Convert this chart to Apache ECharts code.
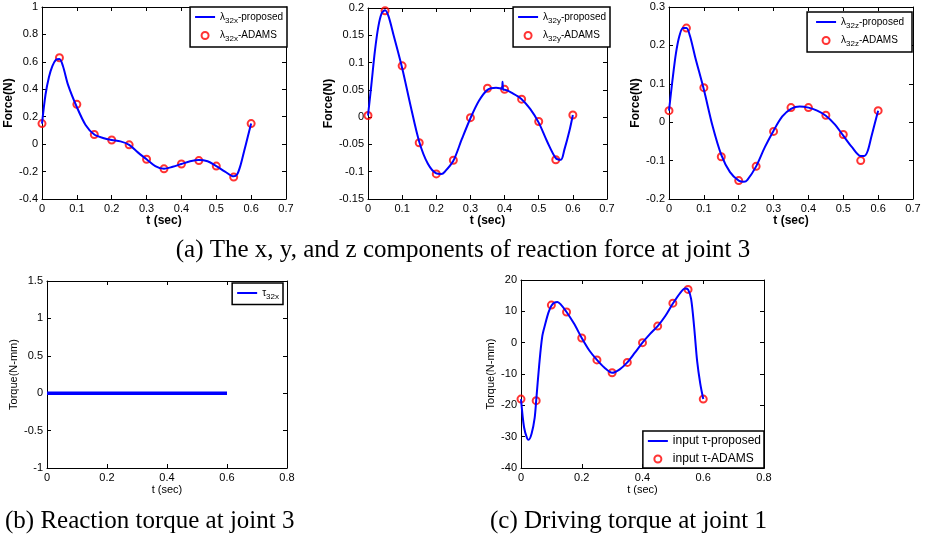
<!DOCTYPE html>
<html>
<head>
<meta charset="utf-8">
<script src="https://cdn.jsdelivr.net/npm/echarts@6/dist/echarts.min.js"></script>
<style>
html, body { margin: 0; padding: 0; background: #fff; }
#chart { width: 926px; height: 540px; }
</style>
</head>
<body>
<div id="chart"></div>
<script>
// ADAMS sample times (shared by all ADAMS series)
const adamsT = [0, 0.05, 0.1, 0.15, 0.2, 0.25, 0.3, 0.35, 0.4, 0.45, 0.5, 0.55, 0.6];

// (a) x component
const fxAdams = [0.15, 0.63, 0.29, 0.07, 0.03, -0.005, -0.11, -0.18, -0.145, -0.12, -0.16, -0.24, 0.15];
const fxLineT = [0, 0.01, 0.02, 0.03, 0.04, 0.05, 0.06, 0.075, 0.1, 0.125, 0.15, 0.175, 0.2, 0.225, 0.25, 0.275, 0.3, 0.325, 0.35, 0.375, 0.4, 0.425, 0.45, 0.475, 0.5, 0.525, 0.55, 0.56, 0.57, 0.58, 0.59, 0.6];
const fxLine = [0.15, 0.36, 0.49, 0.57, 0.615, 0.62, 0.57, 0.43, 0.27, 0.14, 0.07, 0.045, 0.03, 0.02, -0.005, -0.06, -0.11, -0.16, -0.18, -0.165, -0.145, -0.125, -0.115, -0.125, -0.16, -0.2, -0.235, -0.22, -0.15, -0.05, 0.05, 0.15];

// (a) y component
const fyAdams = [0.003, 0.195, 0.094, -0.047, -0.104, -0.079, -0.001, 0.053, 0.051, 0.033, -0.008, -0.078, 0.004];
const fyLineT = [0, 0.01, 0.02, 0.03, 0.04, 0.05, 0.06, 0.075, 0.1, 0.125, 0.15, 0.175, 0.2, 0.215, 0.225, 0.25, 0.275, 0.3, 0.325, 0.35, 0.375, 0.393, 0.394, 0.396, 0.4, 0.425, 0.45, 0.475, 0.5, 0.525, 0.55, 0.565, 0.575, 0.59, 0.6];
const fyLine = [0.003, 0.06, 0.12, 0.165, 0.19, 0.196, 0.185, 0.15, 0.09, 0.02, -0.045, -0.085, -0.103, -0.104, -0.1, -0.08, -0.04, -0.002, 0.03, 0.05, 0.054, 0.052, 0.065, 0.05, 0.05, 0.043, 0.033, 0.015, -0.01, -0.045, -0.075, -0.078, -0.06, -0.025, 0.004];

// (a) z component
const fzAdams = [0.03, 0.245, 0.09, -0.09, -0.152, -0.115, -0.024, 0.038, 0.038, 0.018, -0.032, -0.1, 0.03];
const fzLineT = [0, 0.01, 0.02, 0.03, 0.04, 0.05, 0.06, 0.075, 0.1, 0.125, 0.15, 0.175, 0.2, 0.215, 0.225, 0.25, 0.275, 0.3, 0.325, 0.35, 0.375, 0.4, 0.425, 0.45, 0.475, 0.5, 0.525, 0.55, 0.56, 0.57, 0.58, 0.59, 0.6];
const fzLine = [0.03, 0.11, 0.18, 0.225, 0.245, 0.245, 0.225, 0.17, 0.085, -0.01, -0.085, -0.13, -0.152, -0.155, -0.15, -0.115, -0.065, -0.022, 0.015, 0.035, 0.041, 0.038, 0.03, 0.017, -0.005, -0.035, -0.065, -0.088, -0.088, -0.075, -0.04, -0.005, 0.03];

// (b) reaction torque
const tqT = [0, 0.6];
const tqLine = [0, 0];

// (c) driving torque
const drAdams = [-18, -18.5, 12, 9.8, 1.5, -5.5, -9.6, -6.3, 0, 5.3, 12.6, 17, -18];
const drLineT = [0, 0.01, 0.02, 0.025, 0.035, 0.045, 0.05, 0.06, 0.07, 0.08, 0.09, 0.1, 0.11, 0.12, 0.13, 0.15, 0.175, 0.2, 0.225, 0.25, 0.275, 0.3, 0.325, 0.35, 0.375, 0.4, 0.425, 0.45, 0.475, 0.5, 0.525, 0.54, 0.55, 0.56, 0.57, 0.58, 0.59, 0.6];
const drLine = [-18, -27, -30.5, -31, -29, -24, -18.5, -7, 2, 6, 9.5, 11.8, 12.8, 13, 12.3, 9.8, 6, 1.5, -2.5, -5.5, -8, -9.6, -8.5, -6.3, -3.2, 0, 2.8, 5.3, 8.5, 12.5, 16, 17.3, 17, 14, 5, -6, -13, -18];

const captions = [
  '(a) The x, y, and z components of reaction force at joint 3',
  '(b) Reaction torque at joint 3',
  '(c) Driving torque at joint 1'
];

const zip = (xs, ys) => xs.map((x, i) => [x, ys[i]]);
const FONT = 'Liberation Sans';

const panels = [
  { grid: { left: 42, top: 7, width: 244, height: 192 }, x: [0, 0.7, 0.1], y: [-0.4, 1, 0.2],
    yName: 'Force(N)', bold: true, nameGapY: 21,
    line: ['λ32x-proposed', zip(fxLineT, fxLine)], pts: ['λ32x-ADAMS', zip(adamsT, fxAdams)],
    legend: { right: 926 - 287, top: 7 } },
  { grid: { left: 368, top: 8, width: 239, height: 191 }, x: [0, 0.7, 0.1], y: [-0.15, 0.2, 0.05],
    yName: 'Force(N)', bold: true, nameGapY: 26,
    line: ['λ32y-proposed', zip(fyLineT, fyLine)], pts: ['λ32y-ADAMS', zip(adamsT, fyAdams)],
    legend: { right: 926 - 610, top: 7 } },
  { grid: { left: 669, top: 7, width: 244, height: 192 }, x: [0, 0.7, 0.1], y: [-0.2, 0.3, 0.1],
    yName: 'Force(N)', bold: true, nameGapY: 23,
    line: ['λ32z-proposed', zip(fzLineT, fzLine)], pts: ['λ32z-ADAMS', zip(adamsT, fzAdams)],
    legend: { right: 926 - 912, top: 12 }, wideLegend: true },
  { grid: { left: 47, top: 281, width: 240, height: 187 }, x: [0, 0.8, 0.2], y: [-1, 1.5, 0.5],
    yName: 'Torque(N-mm)', bold: false, nameGapY: 28,
    line: ['τ32x', zip(tqT, tqLine)], pts: null, lineWidth: 3.5,
    legend: { right: 926 - 283, top: 283 } },
  { grid: { left: 521, top: 280, width: 243, height: 188 }, x: [0, 0.8, 0.2], y: [-40, 20, 10],
    yName: 'Torque(N-mm)', bold: false, nameGapY: 25,
    line: ['input τ-proposed', zip(drLineT, drLine)], pts: ['input τ-ADAMS', zip(adamsT, drAdams)],
    legend: { right: 926 - 764, bottom: 540 - 468 }, bigLegend: true }
];

const grids = [], xAxes = [], yAxes = [], series = [], legends = [];
const axLine = { show: true, onZero: false, lineStyle: { color: '#000', width: 1 } };

panels.forEach((p, i) => {
  grids.push(Object.assign({ containLabel: false }, p.grid));
  const tick = { show: true, inside: true, length: 4, lineStyle: { color: '#000' } };
  const lbl = { color: '#000', fontFamily: FONT, fontSize: 11 };
  const titleStyle = { color: '#000', fontFamily: FONT, fontSize: p.bold ? 12 : 11, fontWeight: p.bold ? 'bold' : 'normal' };
  // bottom / left axes with labels
  xAxes.push({ gridIndex: i, type: 'value', min: p.x[0], max: p.x[1], interval: p.x[2], position: 'bottom',
    axisLine: axLine, axisTick: tick, splitLine: { show: false }, axisLabel: Object.assign({ margin: 4 }, lbl),
    name: 't (sec)', nameLocation: 'middle', nameGap: 16, nameTextStyle: titleStyle });
  yAxes.push({ gridIndex: i, type: 'value', min: p.y[0], max: p.y[1], interval: p.y[2], position: 'left',
    axisLine: axLine, axisTick: tick, splitLine: { show: false }, axisLabel: Object.assign({ margin: 4 }, lbl),
    name: p.yName, nameLocation: 'middle', nameGap: p.nameGapY, nameTextStyle: titleStyle });
  // top / right mirror axes for the box
  xAxes.push({ gridIndex: i, type: 'value', min: p.x[0], max: p.x[1], interval: p.x[2], position: 'top',
    axisLine: axLine, axisTick: tick, splitLine: { show: false }, axisLabel: { show: false } });
  yAxes.push({ gridIndex: i, type: 'value', min: p.y[0], max: p.y[1], interval: p.y[2], position: 'right',
    axisLine: axLine, axisTick: tick, splitLine: { show: false }, axisLabel: { show: false } });

  const xi = i * 2, yi = i * 2;
  series.push({ name: p.line[0], type: 'line', xAxisIndex: xi, yAxisIndex: yi, data: p.line[1],
    symbol: 'none', smooth: 0.3, lineStyle: { color: '#0000ff', width: p.lineWidth || 2 }, itemStyle: { color: '#0000ff' } });
  const names = [{ name: p.line[0], itemStyle: { opacity: 0 } }];
  if (p.pts) {
    series.push({ name: p.pts[0], type: 'scatter', xAxisIndex: xi, yAxisIndex: yi, data: p.pts[1],
      symbol: 'circle', symbolSize: 7, itemStyle: { color: 'rgba(0,0,0,0)', borderColor: '#ff0000', borderWidth: 2 } });
    names.push({ name: p.pts[0] });
  }
  const fs = p.bigLegend ? 12 : 10;
  legends.push(Object.assign({
    data: names, orient: 'vertical', itemWidth: 20, itemHeight: 7, itemGap: 6,
    padding: p.bigLegend ? [4, 3, 3, 4] : (p.wideLegend ? [5, 8, 4, 8] : [5, 4, 4, 4]),
    borderColor: '#000', borderWidth: 1.5, backgroundColor: '#fff',
    selectedMode: false,
    textStyle: { color: '#000', fontFamily: FONT, fontSize: fs,
      rich: { s: { fontFamily: FONT, fontSize: fs - 2, padding: [7, 0, 0, 0] } } },
    formatter: n => n.replace(/(32[xyz])/, '{s|$1}')
  }, p.legend));
});

const chart = echarts.init(document.getElementById('chart'));
chart.setOption({
  animation: false,
  backgroundColor: '#fff',
  grid: grids,
  xAxis: xAxes,
  yAxis: yAxes,
  legend: legends,
  series: series,
  graphic: [
    { type: 'text', left: 'center', top: 238, style: { text: captions[0], font: '25px "Liberation Serif"', fill: '#000' } },
    { type: 'text', left: 5, top: 509, style: { text: captions[1], font: '25px "Liberation Serif"', fill: '#000' } },
    { type: 'text', left: 490, top: 509, style: { text: captions[2], font: '25px "Liberation Serif"', fill: '#000' } }
  ]
});
</script>
</body>
</html>
